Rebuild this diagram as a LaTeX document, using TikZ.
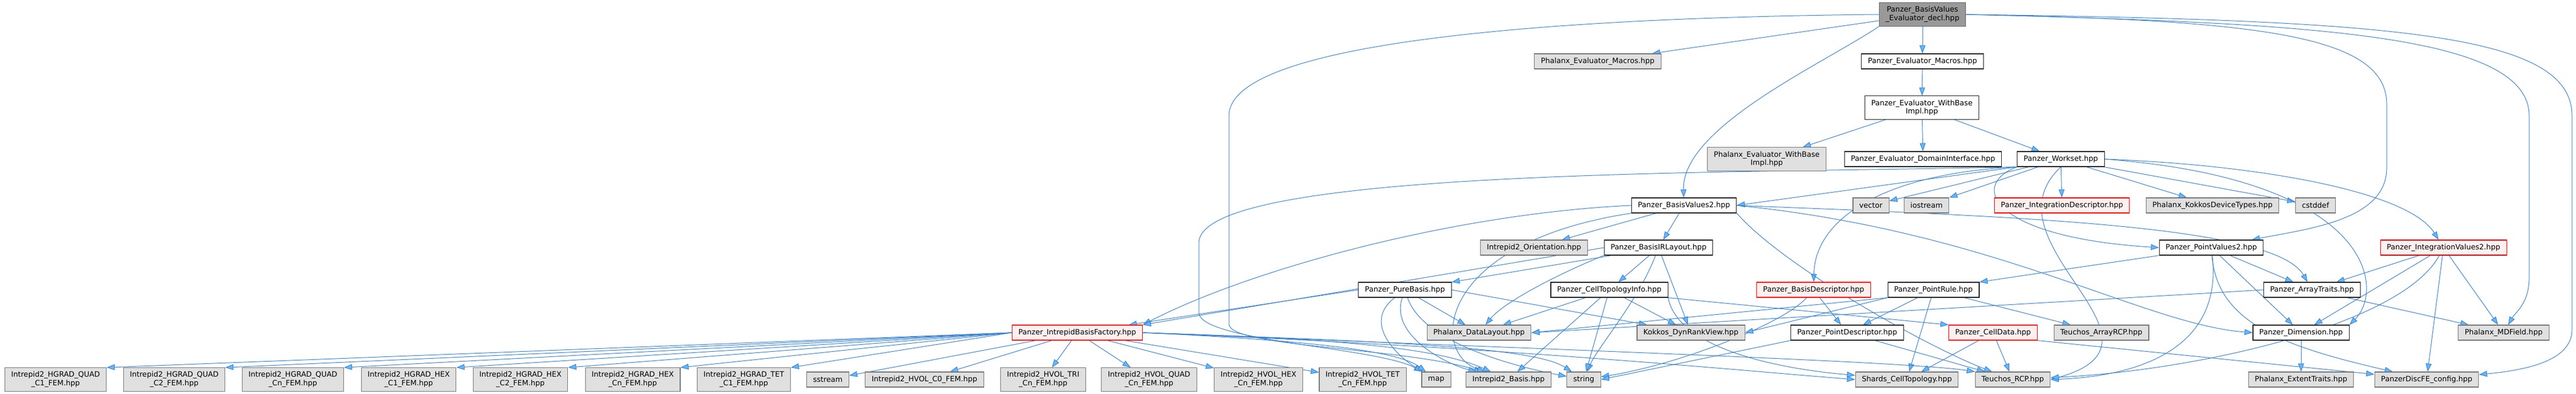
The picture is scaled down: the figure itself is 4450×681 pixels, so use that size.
\documentclass[tikz,border=0pt]{standalone}
\usepackage{fontspec}
\setmainfont{DejaVu Sans}
\usepackage{tikz}
\usetikzlibrary{arrows.meta}
\definecolor{edgeblue}{RGB}{60,132,208}
\definecolor{tipblue}{RGB}{99,184,255}
\definecolor{extfill}{RGB}{224,224,224}
\definecolor{extline}{RGB}{120,120,120}
\definecolor{redfill}{RGB}{255,240,240}
\definecolor{rootfill}{RGB}{153,153,153}
\pgfdeclarelayer{bg}
\pgfsetlayers{bg,main}
\tikzset{>={Triangle[length=14bp,width=10bp,fill=tipblue]}}
\tikzset{
	box/.style={draw, line width=1.1bp, align=center, inner xsep=11bp, inner ysep=6.5bp, minimum height=26bp, font=\fontsize{12.7}{15}\selectfont},
	pzbox/.style={box, draw=black!85, fill=white},
	extbox/.style={box, draw=extline, fill=extfill},
	redbox/.style={box, draw=red, fill=redfill},
	rootbox/.style={box, draw=black!60, fill=rootfill},
	incl/.style={->, draw=edgeblue, line width=1bp}
}

\begin{document}
\begin{tikzpicture}[x=1bp, y=-1bp]
	
		\useasboundingbox (0,0) rectangle (4450,681);
		
		\node[rootbox] (root) at (3321,25) {Panzer\_BasisValues\\\_Evaluator\_decl.hpp};
		\node[extbox] (phxmac) at (2760,106) {Phalanx\_Evaluator\_Macros.hpp};
		\node[pzbox] (pzmac) at (3321,106) {Panzer\_Evaluator\_Macros.hpp};
		\node[pzbox] (pzwb) at (3320,186) {Panzer\_Evaluator\_WithBase\\Impl.hpp};
		\node[extbox] (phxwb) at (3052,275) {Phalanx\_Evaluator\_WithBase\\Impl.hpp};
		\node[pzbox] (domif) at (3322,275) {Panzer\_Evaluator\_DomainInterface.hpp};
		\node[pzbox] (ws) at (3560,275) {Panzer\_Workset.hpp};
		
		\node[pzbox] (bv2) at (2909,355) {Panzer\_BasisValues2.hpp};
		\node[extbox] (vec) at (3232,355) {vector};
		\node[extbox] (ios) at (3328,355) {iostream};
		\node[redbox] (idesc) at (3562,355) {Panzer\_IntegrationDescriptor.hpp};
		\node[extbox] (kdev) at (3822,355) {Phalanx\_KokkosDeviceTypes.hpp};
		\node[extbox] (cstd) at (4000,355) {cstddef};
		
		\node[extbox] (orient) at (2650,428) {Intrepid2\_Orientation.hpp};
		\node[pzbox] (bil) at (2865,428) {Panzer\_BasisIRLayout.hpp};
		\node[pzbox] (pv2) at (3820,428) {Panzer\_PointValues2.hpp};
		\node[redbox] (iv2) at (4221,428) {Panzer\_IntegrationValues2.hpp};
		
		\node[pzbox] (pure) at (2427,501) {Panzer\_PureBasis.hpp};
		\node[pzbox] (cti) at (2780,501) {Panzer\_CellTopologyInfo.hpp};
		\node[redbox] (bdesc) at (3133,501) {Panzer\_BasisDescriptor.hpp};
		\node[pzbox] (prule) at (3340,501) {Panzer\_PointRule.hpp};
		\node[pzbox] (atr) at (3994,501) {Panzer\_ArrayTraits.hpp};
		
		\node[redbox] (ibf) at (1861,575) {Panzer\_IntrepidBasisFactory.hpp};
		\node[extbox] (dl) at (2555,575) {Phalanx\_DataLayout.hpp};
		\node[extbox] (drv) at (2921,575) {Kokkos\_DynRankView.hpp};
		\node[pzbox] (pdesc) at (3191,575) {Panzer\_PointDescriptor.hpp};
		\node[redbox] (cdata) at (3443,575) {Panzer\_CellData.hpp};
		\node[extbox] (arcp) at (3630,575) {Teuchos\_ArrayRCP.hpp};
		\node[pzbox] (dim) at (3975,575) {Panzer\_Dimension.hpp};
		\node[extbox] (mdf) at (4325,575) {Phalanx\_MDField.hpp};
		
		\node[extbox] (q1) at (96,656) {Intrepid2\_HGRAD\_QUAD\\\_C1\_FEM.hpp};
		\node[extbox] (q2) at (301,656) {Intrepid2\_HGRAD\_QUAD\\\_C2\_FEM.hpp};
		\node[extbox] (qn) at (506,656) {Intrepid2\_HGRAD\_QUAD\\\_Cn\_FEM.hpp};
		\node[extbox] (h1) at (706,656) {Intrepid2\_HGRAD\_HEX\\\_C1\_FEM.hpp};
		\node[extbox] (h2) at (899,656) {Intrepid2\_HGRAD\_HEX\\\_C2\_FEM.hpp};
		\node[extbox] (hn) at (1093,656) {Intrepid2\_HGRAD\_HEX\\\_Cn\_FEM.hpp};
		\node[extbox] (t1) at (1285,656) {Intrepid2\_HGRAD\_TET\\\_C1\_FEM.hpp};
		\node[extbox] (sstream) at (1430,656) {sstream};
		\node[extbox] (hvc0) at (1597,656) {Intrepid2\_HVOL\_C0\_FEM.hpp};
		\node[extbox] (hvtri) at (1802,656) {Intrepid2\_HVOL\_TRI\\\_Cn\_FEM.hpp};
		\node[extbox] (hvquad) at (1985,656) {Intrepid2\_HVOL\_QUAD\\\_Cn\_FEM.hpp};
		\node[extbox] (hvhex) at (2174,656) {Intrepid2\_HVOL\_HEX\\\_Cn\_FEM.hpp};
		\node[extbox] (hvtet) at (2354,656) {Intrepid2\_HVOL\_TET\\\_Cn\_FEM.hpp};
		\node[extbox] (map) at (2481,656) {map};
		\node[extbox] (basis) at (2606,656) {Intrepid2\_Basis.hpp};
		\node[extbox] (string) at (2736,656) {string};
		\node[extbox] (shards) at (3294,656) {Shards\_CellTopology.hpp};
		\node[extbox] (rcp) at (3477,656) {Teuchos\_RCP.hpp};
		\node[extbox] (ext) at (3975,656) {Phalanx\_ExtentTraits.hpp};
		\node[extbox] (disc) at (4192,656) {PanzerDiscFE\_config.hpp};
		
		\begin{pgfonlayer}{bg}
		% root
		\draw[incl] (root) -- (phxmac);
		\draw[incl] (root) -- (pzmac);
		\draw[incl] (root.south west) .. controls (3150,110) and (2905,220) .. (bv2);
		\draw[incl] (root.east) .. controls (3900,35) and (4123,60) .. (4123,180) -- (4123,290) .. controls (4123,380) and (3990,395) .. (pv2);
		\draw[incl] (root.east) .. controls (4000,40) and (4369,60) .. (4369,200) -- (4369,480) .. controls (4369,525) and (4345,540) .. (mdf);
		\draw[incl] (root.east) .. controls (4150,35) and (4443,60) .. (4443,200) -- (4443,570) .. controls (4443,625) and (4360,640) .. (disc);
		\draw[incl] (root.west) .. controls (2700,30) and (2123,70) .. (2123,200) -- (2123,560) .. controls (2123,600) and (2420,600) .. (basis);
		
		\draw[incl] (pzmac) -- (pzwb);
		\draw[incl] (pzwb) -- (phxwb);
		\draw[incl] (pzwb) -- (domif);
		\draw[incl] (pzwb) -- (ws);
		
		% workset
		\draw[incl] (ws) -- (vec);
		\draw[incl] (ws) -- (ios);
		\draw[incl] (ws) -- (idesc);
		\draw[incl] (ws) -- (kdev);
		\draw[incl] (ws) -- (cstd);
		\draw[incl] (ws.south west) -- (bv2.east);
		\draw[incl] (ws.south west) .. controls (3400,320) and (3440,410) .. (pv2.west);
		\draw[incl] (ws.east) .. controls (3900,285) and (4160,330) .. (iv2);
		\draw[incl] (ws.south west) .. controls (3250,300) and (3135,380) .. (bdesc);
		\draw[incl] (ws.east) .. controls (4100,310) and (4120,500) .. (dim.north east);
		\draw[incl] (ws.south) .. controls (3420,420) and (3780,590) .. (rcp.east);
		\draw[incl] (ws.south west) .. controls (3000,300) and (2071,290) .. (2071,420) -- (2071,540) .. controls (2071,590) and (2380,600) .. (map);
		
		% basis values
		\draw[incl] (bv2) -- (orient);
		\draw[incl] (bv2) -- (bil);
		\draw[incl] (bv2.west) .. controls (2500,370) and (2150,470) .. (ibf.north east);
		\draw[incl] (bv2.east) .. controls (3500,375) and (3930,390) .. (atr);
		\draw[incl] (bv2.east) .. controls (3450,400) and (3700,560) .. (dim.west);
		\draw[incl] (bv2.south west) .. controls (2480,420) and (2470,610) .. (basis);
		\draw[incl] (bv2.south east) .. controls (3080,460) and (3330,600) .. (rcp);
		
		% basis layout
		\draw[incl] (bil) -- (pure);
		\draw[incl] (bil) -- (cti);
		\draw[incl] (bil) -- (drv);
		\draw[incl] (bil.south west) .. controls (2700,470) and (2600,520) .. (dl);
		\draw[incl] (bil.west) -- (ibf.north east);
		\draw[incl] (bil) .. controls (2830,520) and (2760,600) .. (string);
		
		% pure basis
		\draw[incl] (pure) -- (dl);
		\draw[incl] (pure.east) -- (drv);
		\draw[incl] (pure.west) -- (ibf);
		\draw[incl] (pure) .. controls (2350,560) and (2420,620) .. (map);
		\draw[incl] (pure) .. controls (2400,580) and (2500,630) .. (basis);
		\draw[incl] (pure) .. controls (2460,600) and (2650,640) .. (string);
		
		% cell topology
		\draw[incl] (cti) -- (dl);
		\draw[incl] (cti) -- (drv);
		\draw[incl] (cti) -- (basis);
		\draw[incl] (cti) -- (string);
		\draw[incl] (cti.south east) -- (cdata.north west);
		\draw[incl] (cti.south east) .. controls (2900,610) and (3100,640) .. (shards);
		
		% descriptors, rule, cell data
		\draw[incl] (bdesc) -- (pdesc);
		\draw[incl] (bdesc) .. controls (3080,560) and (2900,630) .. (string);
		\draw[incl] (prule) -- (pdesc);
		\draw[incl] (prule) -- (shards);
		\draw[incl] (prule) -- (arcp);
		\draw[incl] (prule.south west) -- (dl.east);
		\draw[incl] (prule.south west) -- (drv.east);
		\draw[incl] (pdesc) -- (rcp);
		\draw[incl] (pdesc.south west) -- (string.east);
		\draw[incl] (cdata) -- (shards);
		\draw[incl] (cdata) -- (rcp);
		\draw[incl] (cdata.south east) -- (disc);
		
		% point and integration values
		\draw[incl] (pv2.south west) -- (prule.north east);
		\draw[incl] (pv2) -- (atr);
		\draw[incl] (pv2) -- (dim);
		\draw[incl] (pv2) .. controls (3830,560) and (3950,600) .. (disc);
		\draw[incl] (pv2) .. controls (3840,600) and (3700,650) .. (rcp.east);
		\draw[incl] (iv2) -- (atr);
		\draw[incl] (iv2) -- (dim);
		\draw[incl] (iv2) -- (mdf);
		\draw[incl] (iv2) -- (disc);
		\draw[incl] (iv2) .. controls (4150,560) and (3800,640) .. (rcp);
		\draw[incl] (atr) -- (mdf);
		\draw[incl] (atr.west) -- (dl.east);
		\draw[incl] (dim) -- (ext);
		
		% basis factory
		\draw[incl] (ibf.west) -- (q1.north east);
		\draw[incl] (ibf.west) -- (q2.north east);
		\draw[incl] (ibf.west) -- (qn.north east);
		\draw[incl] (ibf.west) -- (h1.north east);
		\draw[incl] (ibf.west) -- (h2.north east);
		\draw[incl] (ibf.west) -- (hn.north east);
		\draw[incl] (ibf.west) -- (t1.north east);
		\draw[incl] (ibf) -- (sstream);
		\draw[incl] (ibf) -- (hvc0);
		\draw[incl] (ibf) -- (hvtri);
		\draw[incl] (ibf) -- (hvquad);
		\draw[incl] (ibf) -- (hvhex);
		\draw[incl] (ibf) -- (hvtet);
		\draw[incl] (ibf.east) .. controls (2300,590) and (2420,610) .. (map);
		\draw[incl] (ibf.east) .. controls (2300,585) and (2480,600) .. (basis);
		\draw[incl] (ibf.east) .. controls (2400,590) and (2650,600) .. (string);
		\draw[incl] (ibf.east) .. controls (2600,600) and (3000,640) .. (shards.west);
		\draw[incl] (ibf.east) .. controls (2700,605) and (3300,625) .. (rcp.north west);
		\end{pgfonlayer}
		
	\end{tikzpicture}
\end{document}
